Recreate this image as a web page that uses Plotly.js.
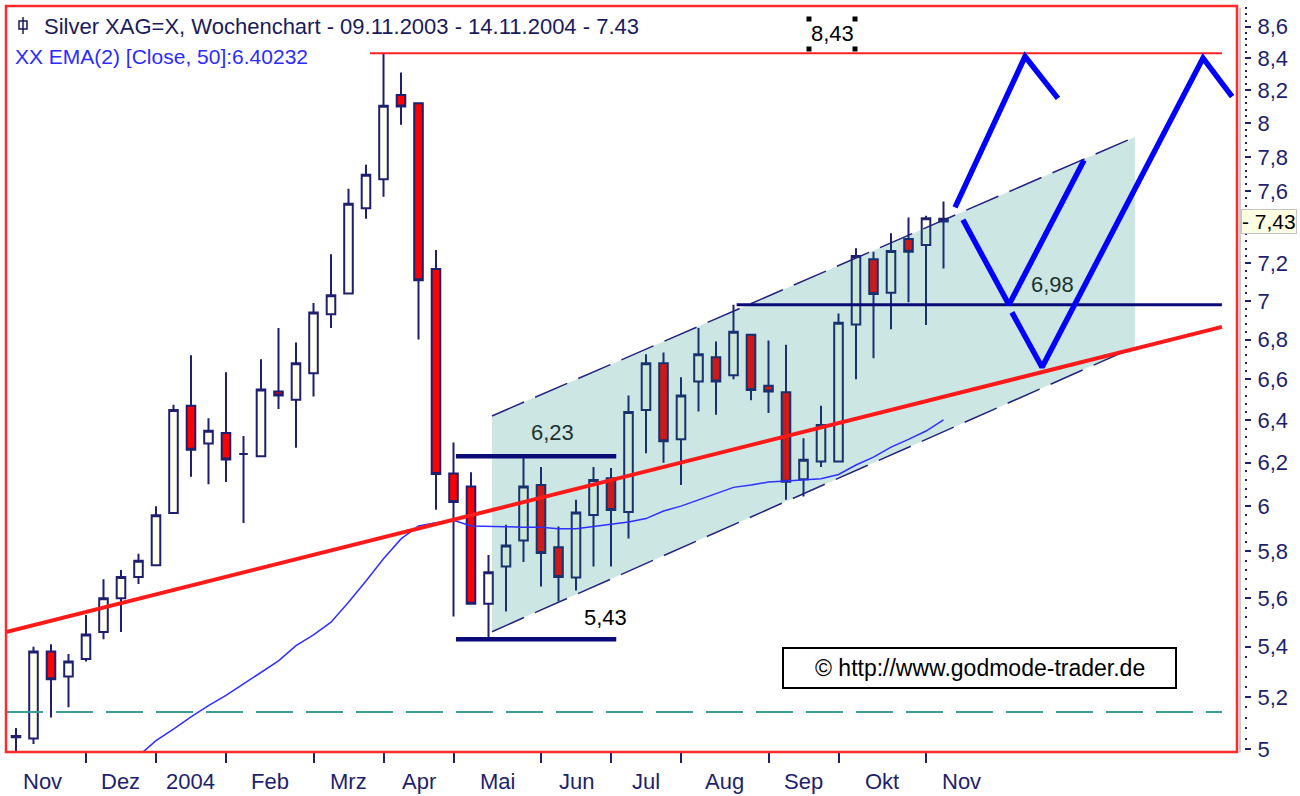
<!DOCTYPE html>
<html>
<head>
<meta charset="utf-8">
<script src="https://cdn.plot.ly/plotly-3.0.1.min.js"></script>
<style>html,body{margin:0;padding:0;background:#fff;}#chart{width:1300px;height:796px;}</style>
</head>
<body>
<div id="chart"></div>
<script>
// ---------- data ----------
const weekDates = ['2003-11-09','2003-11-16','2003-11-23','2003-11-30','2003-12-07','2003-12-14','2003-12-21','2003-12-28',
'2004-01-04','2004-01-11','2004-01-18','2004-01-25','2004-02-01','2004-02-08','2004-02-15','2004-02-22','2004-02-29',
'2004-03-07','2004-03-14','2004-03-21','2004-03-28','2004-04-04','2004-04-11','2004-04-18','2004-04-25',
'2004-05-02','2004-05-09','2004-05-16','2004-05-23','2004-05-30','2004-06-06','2004-06-13','2004-06-20','2004-06-27',
'2004-07-04','2004-07-11','2004-07-18','2004-07-25','2004-08-01','2004-08-08','2004-08-15','2004-08-22','2004-08-29',
'2004-09-05','2004-09-12','2004-09-19','2004-09-26','2004-10-03','2004-10-10','2004-10-17','2004-10-24','2004-10-31',
'2004-11-07','2004-11-14'];

const openP  = [5.05,5.04,5.38,5.28,5.35,5.46,5.60,5.69,5.74,5.97,6.47,6.29,6.34,6.24,6.23,6.54,6.50,6.63,6.93,7.04,7.505,7.67,8.17,8.12,7.17,6.15,6.09,5.577,5.735,5.848,6.097,5.819,5.688,5.961,6.128,5.974,6.45,6.68,6.31,6.59,6.71,6.62,6.825,6.568,6.537,6.123,6.205,6.205,6.878,7.223,7.044,7.334,7.30,7.445];
const highP  = [5.08,5.40,5.41,5.37,5.53,5.68,5.72,5.79,6.00,6.475,6.72,6.41,6.635,6.325,6.70,6.86,6.785,6.99,7.25,7.615,7.753,8.43,8.31,8.12,7.273,6.295,6.155,5.785,5.918,6.23,6.18,5.91,6.03,6.18,6.175,6.52,6.725,6.735,6.61,6.86,6.79,6.98,6.825,6.795,6.774,6.315,6.47,6.935,7.283,7.263,7.365,7.453,7.463,7.543];
const lowP   = [4.98,5.02,5.12,5.16,5.34,5.43,5.46,5.66,5.74,5.97,6.135,6.10,6.11,5.925,6.23,6.455,6.27,6.515,6.86,7.04,7.445,7.57,7.99,6.80,5.985,5.524,5.577,5.43,5.545,5.754,5.65,5.586,5.633,5.735,5.735,5.857,6.244,6.20,6.097,6.443,6.427,6.60,6.497,6.435,6.03,6.044,6.18,6.205,6.60,6.706,6.853,6.993,6.875,7.173];
const closeP = [5.045,5.38,5.27,5.34,5.45,5.60,5.69,5.76,5.96,6.45,6.26,6.35,6.215,6.24,6.55,6.52,6.68,6.94,7.03,7.53,7.695,8.105,8.10,7.11,6.147,6.02,5.577,5.71,5.826,6.09,5.793,5.69,5.972,6.12,5.984,6.44,6.68,6.30,6.52,6.725,6.59,6.84,6.548,6.54,6.112,6.213,6.378,6.887,7.24,7.037,7.268,7.263,7.449,7.43];

const ema50 = [null,null,null,null,null,null,null,4.975,5.032,5.076,5.123,5.166,5.206,5.251,5.298,5.343,5.404,5.448,5.50,5.583,5.673,5.768,5.855,5.912,5.926,5.937,5.912,5.912,5.909,5.907,5.906,5.90,5.90,5.91,5.92,5.93,5.945,5.979,6.001,6.03,6.059,6.086,6.097,6.11,6.115,6.12,6.125,6.145,6.189,6.226,6.273,6.309,6.349,6.40232];

const yTickVals = [5,5.2,5.4,5.6,5.8,6,6.2,6.4,6.6,6.8,7,7.2,7.4,7.6,7.8,8,8.2,8.4,8.6];
// the 7,4 label sits under the highlighted last-price box, so it is left blank
const yTickText = ['5','5,2','5,4','5,6','5,8','6','6,2','6,4','6,6','6,8','7','7,2','','7,6','7,8','8','8,2','8,4','8,6'];

// week index of the first week of each month (first and last are the neighbouring months)
const monthBounds = [-1,4,8,12,17,21,25,30,34,38,43,47,52,56];
const monthLabels = ['Nov','Dez','2004','Feb','Mrz','Apr','Mai','Jun','Jul','Aug','Sep','Okt','Nov'];

const lastClose = 7.43;
const emaLabel = 'XX EMA(2) [Close, 50]:6.40232';
const titleText = 'Silver XAG=X, Wochenchart - 09.11.2003 - 14.11.2004 - 7.43';

// drawn analysis objects (x in week index, y in price)
const trendX = [-0.571, 68.91], trendY = [5.46, 6.865];
const chanUpX = [27.2, 63.94], chanUpY = [6.421, 7.917];
const chanLoX = [27.2, 63.94], chanLoY = [5.461, 6.763];
const hLineVals  = [8.43, 6.98, 6.23, 5.43];
const hLineFrom  = [20.23, 41.18, 25.14, 25.14];
const hLineTo    = [68.91, 68.91, 34.3, 34.3];
const hLineText  = ['8,43','6,98','6,23','5,43'];
const hLabelX    = [46.63, 59.2, 30.63, 33.66];
const supportVal = 5.142, supportFrom = -0.571, supportTo = 68.91;
const zigAX = [53.66,57.66,59.54], zigAY = [7.51,8.41,8.15];
const zigBX = [54.11,56.74,61.03], zigBY = [7.44,6.98,7.78];
const zigCX = [56.91,58.63,67.83,69.49], zigCY = [6.94,6.66,8.40,8.16];

// ---------- styling ----------
const NAVY = '#1e1f6e';
const FONT = 'Liberation Sans, Arial, sans-serif';
const ML = 6, MR = 50, MT = 6, MB = 44, W = 1300, H = 796;
const PW = W - ML - MR, PH = H - MT - MB;
const px = x => (x - ML) / PW;
const py = y => (H - MB - y) / PH;
const xIdx = weekDates.map((d, i) => i);
const monthStarts = monthBounds.slice(1, -1);
const monthMid = monthLabels.map((_, i) => (monthBounds[i] + monthBounds[i + 1]) / 2);

const minorVals = [];
for (let k = 0; k <= 93; k++) minorVals.push(+(5 + k * 0.04).toFixed(2));

const traces = [];
traces.push({
  type: 'candlestick', x: xIdx, open: openP, high: highP, low: lowP, close: closeP,
  text: weekDates, whiskerwidth: 0, hoverinfo: 'skip',
  increasing: {line: {color: NAVY, width: 2}, fillcolor: '#fffff0'},
  decreasing: {line: {color: NAVY, width: 2}, fillcolor: '#ff0000'}
});
// channel fill
traces.push({type: 'scatter', mode: 'lines', x: [chanUpX[0], chanUpX[1], chanLoX[1], chanLoX[0]],
  y: [chanUpY[0], chanUpY[1], chanLoY[1], chanLoY[0]], fill: 'toself',
  fillcolor: 'rgba(0,130,120,0.2)', line: {width: 0}, hoverinfo: 'skip'});
// EMA
traces.push({type: 'scatter', mode: 'lines', x: xIdx, y: ema50, line: {color: '#2f2fff', width: 1.5}, hoverinfo: 'skip'});
// support dashed teal
traces.push({type: 'scatter', mode: 'lines', x: [supportFrom, supportTo], y: [supportVal, supportVal],
  line: {color: '#3c9d96', width: 2, dash: '37px,13px'}, hoverinfo: 'skip'});
// channel lines
[[chanUpX, chanUpY], [chanLoX, chanLoY]].forEach(([xx, yy]) => traces.push({
  type: 'scatter', mode: 'lines', x: xx, y: yy, line: {color: '#23237d', width: 1.5, dash: '35px,12px'}, hoverinfo: 'skip'}));
// red trend
traces.push({type: 'scatter', mode: 'lines', x: trendX, y: trendY, line: {color: '#ff1a1a', width: 4}, hoverinfo: 'skip'});
// horizontal lines
const hStyles = [{color: '#ff2020', width: 2}, {color: '#0b0b78', width: 3}, {color: '#0b0b78', width: 4.5}, {color: '#0b0b78', width: 4.5}];
hLineVals.forEach((v, i) => traces.push({type: 'scatter', mode: 'lines', x: [hLineFrom[i], hLineTo[i]], y: [v, v],
  line: hStyles[i], hoverinfo: 'skip'}));
// projected zigzags
[[zigAX, zigAY], [zigBX, zigBY], [zigCX, zigCY]].forEach(([xx, yy]) => traces.push({
  type: 'scatter', mode: 'lines', x: xx, y: yy, line: {color: '#0000ff', width: 5.5}, hoverinfo: 'skip'}));

// ---------- annotations ----------
const ann = [];
ann.push({xref: 'paper', yref: 'paper', x: px(42), y: py(26), xanchor: 'left', yanchor: 'middle', showarrow: false,
  text: titleText, font: {family: FONT, size: 22, color: '#1a1a5c'}});
ann.push({xref: 'paper', yref: 'paper', x: px(13), y: py(56), xanchor: 'left', yanchor: 'middle', showarrow: false,
  text: emaLabel, font: {family: FONT, size: 21, color: '#2b2bff'}});
monthLabels.forEach((t, i) => ann.push({xref: 'x', yref: 'paper', x: monthMid[i], y: 0, yshift: -29,
  yanchor: 'middle', showarrow: false, text: t, font: {family: FONT, size: 22, color: NAVY}}));
const hShift = [20, 20, 24, 22];
const hCol = ['#000000', '#1d332f', '#1d332f', '#000000'];
hLineVals.forEach((v, i) => ann.push({xref: 'x', yref: 'y', x: hLabelX[i], y: Math.log10(v), yshift: hShift[i],
  yanchor: 'middle', showarrow: false, text: hLineText[i], font: {family: FONT, size: 22, color: hCol[i]}}));
ann.push({xref: 'paper', yref: 'y', x: px(1241), y: Math.log10(lastClose), xanchor: 'left', yanchor: 'middle',
  showarrow: false, text: '- ' + String(lastClose).replace('.', ','), bgcolor: '#ffffe4',
  bordercolor: '#c4c4c4', borderwidth: 1, borderpad: 0, font: {family: FONT, size: 21, color: '#000'}});
ann.push({xref: 'paper', yref: 'paper', x: px(979.5), y: py(668), xanchor: 'center', yanchor: 'middle', showarrow: false,
  text: '© http://www.godmode-trader.de', font: {family: FONT, size: 23, color: '#000'}});

// ---------- shapes ----------
const shapes = [];
shapes.push({type: 'rect', xref: 'paper', yref: 'paper', x0: px(783), x1: px(1176), y0: py(688), y1: py(648),
  line: {color: '#000', width: 2}, fillcolor: '#fff', layer: 'above'});
shapes.push({type: 'line', xref: 'paper', yref: 'paper', x0: px(1240), x1: px(1240), y0: py(8), y1: py(752),
  line: {color: '#b8b8b8', width: 1.5}});
shapes.push({type: 'rect', xref: 'paper', yref: 'paper', x0: 0, x1: px(1237), y0: 0, y1: 1,
  line: {color: '#ff2a2a', width: 2.5}, layer: 'above'});
// title icon
shapes.push({type: 'rect', xref: 'paper', yref: 'paper', x0: px(19), x1: px(27), y0: py(29), y1: py(21),
  line: {color: '#1a1a5c', width: 1.5}});
shapes.push({type: 'line', xref: 'paper', yref: 'paper', x0: px(23), x1: px(23), y0: py(34), y1: py(17),
  line: {color: '#1a1a5c', width: 1.5}});
// selection handles around the 8,43 label
[[809, 19], [855, 19], [809, 49], [855, 49]].forEach(([hx, hy]) => shapes.push({type: 'rect', xref: 'paper', yref: 'paper',
  x0: px(hx - 2.5), x1: px(hx + 2.5), y0: py(hy + 2.5), y1: py(hy - 2.5), line: {width: 0}, fillcolor: '#000', layer: 'above'}));

const layout = {
  width: W, height: H, margin: {l: ML, r: MR, t: MT, b: MB}, paper_bgcolor: '#fff', plot_bgcolor: '#fff',
  showlegend: false, hovermode: false, boxgap: 0.3,
  xaxis: {range: [-0.571, 69.771], domain: [0, px(1237)], tickmode: 'array', tickvals: monthStarts,
    showticklabels: false, ticks: 'outside', ticklen: 10, tickwidth: 2, tickcolor: NAVY,
    showgrid: false, zeroline: false, showline: false, fixedrange: true, rangeslider: {visible: false}},
  yaxis: {type: 'log', range: [0.698057, 0.941263], side: 'right', anchor: 'free', position: px(1244),
    tickmode: 'array', tickvals: yTickVals, ticktext: yTickText, ticks: 'outside', ticklen: 6, tickwidth: 2,
    tickcolor: NAVY, tickfont: {family: FONT, size: 22, color: NAVY}, ticklabelstandoff: 2,
    showgrid: false, zeroline: false, showline: false, fixedrange: true,
    minor: {tickmode: 'array', tickvals: minorVals, ticks: 'outside', ticklen: 2, tickwidth: 2, tickcolor: NAVY, showgrid: false}},
  annotations: ann, shapes: shapes
};
Plotly.newPlot('chart', traces, layout, {staticPlot: true, displayModeBar: false});
</script>
</body>
</html>
